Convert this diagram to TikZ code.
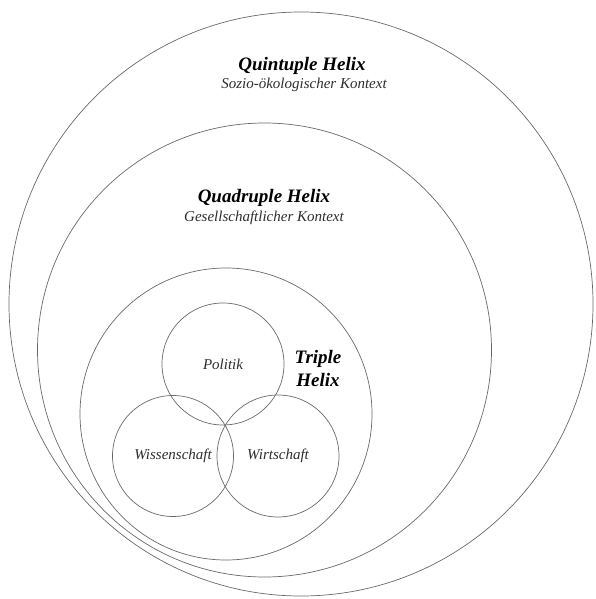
\documentclass[tikz,border=0pt]{standalone}
\usepackage{fontspec}
\setmainfont{Liberation Serif}

\definecolor{ringgray}{RGB}{105,105,105}
\definecolor{textgray}{RGB}{45,45,45}

\tikzset{
  ring/.style={circle, draw=ringgray, line width=0.7pt, inner sep=0pt},
  helix/.style={font=\fontsize{19}{23}\selectfont\bfseries\itshape, text=black, inner sep=0pt},
  context/.style={font=\fontsize{15}{18}\selectfont\itshape, text=textgray, inner sep=0pt},
  sector/.style={ring, font=\fontsize{15}{18}\selectfont\itshape, text=textgray}
}

\begin{document}
\begin{tikzpicture}[x=1pt, y=-1pt]
    \useasboundingbox (0,0) rectangle (596,599);

    % Outer rings
    \node[ring, minimum size=584pt] (quintuple) at (301,304) {};
    \node[ring, minimum size=454pt] (quadruple) at (264.5,350) {};
    \node[ring, minimum size=292pt] (triple) at (226,414) {};

    % The three sectors
    \node[sector, minimum size=122pt] (politik) at (223,364) {Politik};
    \node[sector, minimum size=121pt] (wissenschaft) at (173,456) {Wissenschaft};
    \node[sector, minimum size=122pt] (wirtschaft) at (278,456) {Wirtschaft};

    % Labels of the rings
    \node[helix, anchor=base] (quinttitle) at (302,71) {Quintuple Helix};
    \node[context, anchor=base] (quintcontext) at (304,89) {Sozio-ökologischer Kontext};
    \node[helix, anchor=base] (quadtitle) at (264,202) {Quadruple Helix};
    \node[context, anchor=base] (quadcontext) at (264,221) {Gesellschaftlicher Kontext};
    \node[helix, align=center] (tripletitle) at (318,368) {Triple\\Helix};

\end{tikzpicture}
\end{document}
